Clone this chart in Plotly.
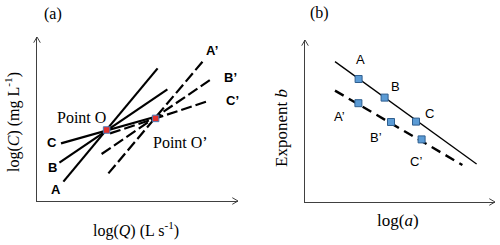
import plotly.graph_objects as go

W, H = 500, 245

# ---------- panel (a): schematic log(C) vs log(Q) ----------
solid_names = ["A", "B", "C"]
solid_x0 = [1.32, 1.12, 1.20]
solid_y0 = [0.97, 1.92, 2.88]
solid_x1 = [6.03, 6.52, 6.23]
solid_y1 = [6.63, 5.58, 4.30]

dash_names = ["A’", "B’", "C’"]
dash_x0 = [3.57, 3.23, 3.65]
dash_y0 = [1.38, 2.35, 3.38]
dash_x1 = [8.28, 8.65, 8.48]
dash_y1 = [6.97, 6.05, 4.97]

point_names = ["Point O", "Point O’"]
point_x = [3.48, 5.93]
point_y = [3.55, 4.13]

solid_lab_x = [0.93, 0.77, 0.73]
solid_lab_y = [0.60, 1.67, 2.92]
dash_lab_x = [8.73, 9.65, 9.77]
dash_lab_y = [7.55, 6.18, 5.05]
point_lab_x = [2.23, 7.15]
point_lab_y = [4.18, 2.92]

# ---------- panel (b): exponent b vs log(a) ----------
fit_solid_x = [1.50, 8.58]
fit_solid_y = [7.02, 1.90]
fit_dash_x = [1.50, 7.87]
fit_dash_y = [5.57, 1.85]
loga_solid = [2.68, 3.98, 5.55]
b_solid = [6.15, 5.22, 4.02]
loga_dash = [2.67, 4.30, 5.83]
b_dash = [4.94, 4.00, 3.13]
lab_b_solid_x = [2.75, 4.53, 6.20]
lab_b_solid_y = [7.10, 5.77, 4.43]
lab_b_dash_x = [1.72, 3.53, 5.55]
lab_b_dash_y = [4.27, 3.23, 2.02]

SERIF = "Liberation Serif"
SANS = "Liberation Sans"
AX = "#404040"

fig = go.Figure()

# panel (a) lines
for i in range(3):
    fig.add_trace(go.Scatter(x=[solid_x0[i], solid_x1[i]], y=[solid_y0[i], solid_y1[i]],
                             mode="lines", line=dict(color="black", width=2.2),
                             xaxis="x", yaxis="y", showlegend=False, hoverinfo="skip"))
for i in range(3):
    fig.add_trace(go.Scatter(x=[dash_x0[i], dash_x1[i]], y=[dash_y0[i], dash_y1[i]],
                             mode="lines", line=dict(color="black", width=2.2, dash="11px,4px"),
                             xaxis="x", yaxis="y", showlegend=False, hoverinfo="skip"))
fig.add_trace(go.Scatter(x=point_x, y=point_y, mode="markers",
                         marker=dict(symbol="square", size=6.5, color="#e3312c",
                                     line=dict(color="#4a7ebb", width=1)),
                         xaxis="x", yaxis="y", showlegend=False, hoverinfo="skip"))

# panel (b) lines and points
fig.add_trace(go.Scatter(x=fit_solid_x, y=fit_solid_y, mode="lines",
                         line=dict(color="black", width=1.3),
                         xaxis="x2", yaxis="y2", showlegend=False, hoverinfo="skip"))
fig.add_trace(go.Scatter(x=fit_dash_x, y=fit_dash_y, mode="lines",
                         line=dict(color="black", width=2.4, dash="10px,6px"),
                         xaxis="x2", yaxis="y2", showlegend=False, hoverinfo="skip"))
mk = dict(symbol="square", size=7, color="#5b9bd5", line=dict(color="#2f5f8f", width=1))
fig.add_trace(go.Scatter(x=loga_solid, y=b_solid, mode="markers", marker=mk,
                         xaxis="x2", yaxis="y2", showlegend=False, hoverinfo="skip"))
fig.add_trace(go.Scatter(x=loga_dash, y=b_dash, mode="markers", marker=mk,
                         xaxis="x2", yaxis="y2", showlegend=False, hoverinfo="skip"))

ann = []
lab_font_a = dict(family=SANS, size=13, color="black")
for i in range(3):
    ann.append(dict(x=solid_lab_x[i], y=solid_lab_y[i], xref="x", yref="y",
                    text="<b>%s</b>" % solid_names[i], showarrow=False, font=lab_font_a))
    ann.append(dict(x=dash_lab_x[i], y=dash_lab_y[i], xref="x", yref="y",
                    text="<b>%s</b>" % dash_names[i], showarrow=False, font=lab_font_a))
for i in range(2):
    ann.append(dict(x=point_lab_x[i], y=point_lab_y[i], xref="x", yref="y",
                    text=point_names[i], showarrow=False,
                    font=dict(family=SERIF, size=16, color="black")))
lab_font_b = dict(family=SANS, size=13, color="black")
for i in range(3):
    ann.append(dict(x=lab_b_solid_x[i], y=lab_b_solid_y[i], xref="x2", yref="y2",
                    text=solid_names[i], showarrow=False, font=lab_font_b))
    ann.append(dict(x=lab_b_dash_x[i], y=lab_b_dash_y[i], xref="x2", yref="y2",
                    text=dash_names[i], showarrow=False, font=lab_font_b))


def px(xp, yp):
    return xp / W, 1 - yp / H


def txt(xp, yp, text, size=17, angle=0):
    x, y = px(xp, yp)
    ann.append(dict(x=x, y=y, xref="paper", yref="paper", text=text, showarrow=False,
                    textangle=angle, font=dict(family=SERIF, size=size, color="black"),
                    xanchor="center", yanchor="middle"))


txt(53, 14, "(a)", 16)
txt(319, 13, "(b)", 16)
txt(12, 122, "log(<i>C</i>) (mg L<sup>-1</sup>)", 16, -90)
txt(136, 229, "log(<i>Q</i>) (L s<sup>-1</sup>)", 16)
txt(281, 128, "Exponent <i>b</i>", 17, -90)
txt(398, 220, "log(<i>a</i>)", 17)

shapes = []


def seg(x0, y0, x1, y1):
    a0, b0 = px(x0, y0)
    a1, b1 = px(x1, y1)
    shapes.append(dict(type="line", xref="paper", yref="paper", x0=a0, y0=b0, x1=a1, y1=b1,
                       line=dict(color=AX, width=1)))


# axis arrows (chevrons)
for (xa, ya) in [(37, 37), (305, 40)]:
    seg(xa - 3.3, ya + 5.7, xa, ya)
    seg(xa + 3.3, ya + 5.7, xa, ya)
for (xa, ya) in [(238, 201), (495, 202)]:
    seg(xa - 5.7, ya - 3.3, xa, ya)
    seg(xa - 5.7, ya + 3.3, xa, ya)

axstyle = dict(showline=True, linecolor=AX, linewidth=1, showgrid=False, zeroline=False,
               showticklabels=False, ticks="", fixedrange=True)
fig.update_layout(
    width=W, height=H, margin=dict(l=0, r=0, t=0, b=0),
    paper_bgcolor="white", plot_bgcolor="white",
    xaxis=dict(domain=[37 / W, 238 / W], range=[0, 10.05], anchor="y", **axstyle),
    yaxis=dict(domain=[1 - 201 / H, 1 - 37 / H], range=[0, 8.2], anchor="x", **axstyle),
    xaxis2=dict(domain=[305 / W, 495 / W], range=[0, 9.5], anchor="y2", **axstyle),
    yaxis2=dict(domain=[1 - 202 / H, 1 - 40 / H], range=[0, 8.1], anchor="x2", **axstyle),
    annotations=ann, shapes=shapes, showlegend=False,
)

fig.write_html("out.html", config={"displayModeBar": False},
               post_script="document.body.style.margin='0';")
